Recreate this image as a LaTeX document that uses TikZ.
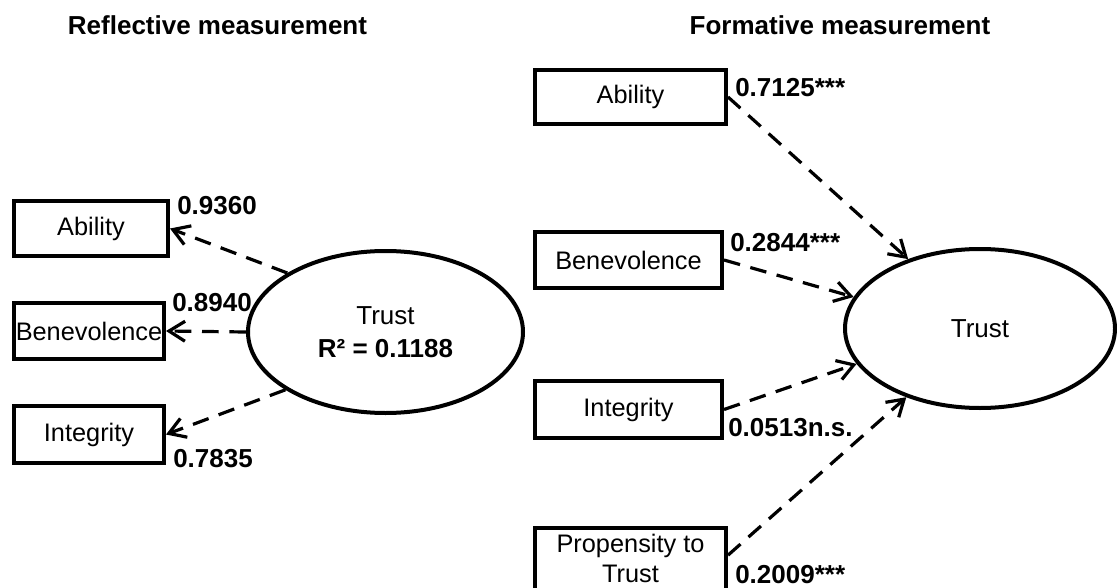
\documentclass[tikz,border=0pt]{standalone}
\usepackage{fontspec}
\setmainfont{Liberation Sans}
\usetikzlibrary{arrows.meta,shapes.geometric}
\tikzset{
  mbox/.style={draw, line width=3pt, inner sep=0pt, align=center, font=\fontsize{19}{22.5}\selectfont},
  latent/.style={draw, ellipse, line width=3pt, inner sep=0pt, align=center, font=\fontsize{19.5}{24}\selectfont},
  coef/.style={anchor=west, inner sep=0pt, font=\bfseries\fontsize{19.5}{23}\selectfont},
  heading/.style={font=\bfseries\fontsize{19.5}{23}\selectfont},
  loadarrow/.style={line width=2.4pt, dash pattern=on 12.5pt off 8pt, -{Straight Barb[length=12pt,width=15pt]}}
}

\begin{document}
\begin{tikzpicture}[x=0.75pt,y=-0.75pt]
			%%%%% START %%%%%
			\useasboundingbox (0,0) rectangle (1117,588);
			
			\node[heading] (reflTitle) at (217.5,25) {Reflective measurement};
			\node[heading] (formTitle) at (840,25) {Formative measurement};
			
			% reflective side
			\node[mbox, minimum width=115.5pt, minimum height=41.25pt] (abilL) at (91,228.5) {Ability};
			\node[mbox, minimum width=112.5pt, minimum height=42pt] (beneL) at (89,331) {Benevolence};
			\node[mbox, minimum width=112.5pt, minimum height=42.75pt] (inteL) at (89,434.5) {Integrity};
			
			\node[latent, minimum width=206.25pt, minimum height=121.5pt] (trustL) at (385.5,332) {Trust\\[1pt]\bfseries R² = 0.1188};
			
			\draw[loadarrow] (trustL.149) -- (abilL.east);
			\draw[loadarrow] (trustL.180) -- (beneL.east);
			\draw[loadarrow] (trustL.210) -- (inteL.east);
			
			\node[coef] (cAbilL) at (177,206) {0.9360};
			\node[coef] (cBeneL) at (172,303) {0.8940};
			\node[coef] (cInteL) at (173,459) {0.7835};
			
			% formative side
			\node[mbox, minimum width=143.25pt, minimum height=40.5pt] (abilR) at (630.5,97) {Ability};
			\node[mbox, minimum width=140.25pt, minimum height=42pt] (beneR) at (628.5,260) {Benevolence};
			\node[mbox, minimum width=140.25pt, minimum height=42.75pt] (inteR) at (628.5,409.5) {Integrity};
			% box runs past the bottom edge
			\node[mbox, minimum width=143.25pt, minimum height=51pt] (propR) at (630.5,562) {Propensity to\\Trust\rule[-6pt]{0pt}{6pt}};
			
			\node[latent, minimum width=202.5pt, minimum height=119.25pt] (trustR) at (980,328.5) {Trust};
			
			\draw[loadarrow] (abilR.east) -- (trustR.136);
			\draw[loadarrow] (beneR.east) -- (trustR.166);
			\draw[loadarrow] (inteR.east) -- (trustR.196);
			\draw[loadarrow] (propR.4) -- (trustR.223);
			
			\node[coef] (cAbilR) at (735,88) {0.7125***};
			\node[coef] (cBeneR) at (730,243) {0.2844***};
			\node[coef] (cInteR) at (728,428) {0.0513n.s.};
			\node[coef] (cPropR) at (735,575) {0.2009***};
			
			%%%%% END %%%%%
\end{tikzpicture}
\end{document}
